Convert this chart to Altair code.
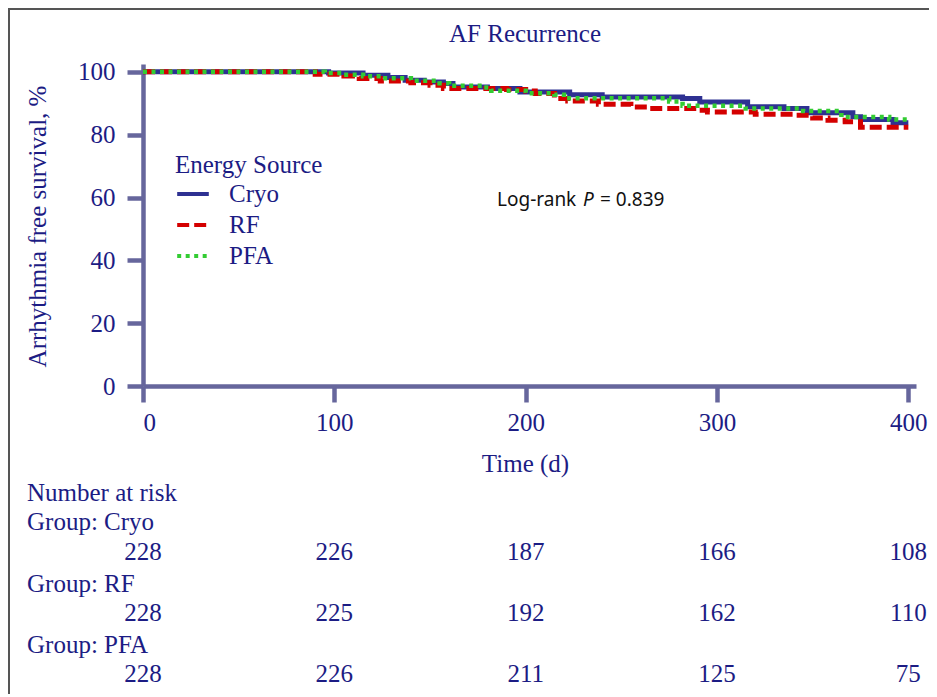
import altair as alt
import pandas as pd

# ---------------- data ----------------
groups = ["Cryo", "RF", "PFA"]
line_colors = ["#2E3192", "#D40000", "#33CC33"]
line_dashes = [[1, 0], [12, 5], [4, 4.5]]

cryo_t = [0, 97, 115, 128, 137, 147, 157, 162, 180, 197, 223, 240, 282, 291, 316, 335, 347, 371, 375, 392, 400]
cryo_s = [100, 99.6, 98.9, 98.2, 97.3, 96.8, 96.3, 95.2, 94.7, 93.6, 92.7, 92.0, 91.5, 90.4, 88.9, 88.3, 87.0, 85.7, 84.8, 83.8, 83.8]

rf_t = [0, 90, 105, 113, 124, 140, 150, 157, 190, 200, 205, 215, 222, 238, 255, 265, 290, 295, 320, 340, 350, 358, 367, 375, 400]
rf_s = [100, 99.2, 98.7, 97.9, 97.1, 96.5, 95.7, 94.7, 94.4, 93.9, 93.1, 91.5, 90.7, 89.7, 88.8, 88.3, 87.8, 87.2, 86.5, 86.2, 85.3, 84.6, 84.1, 82.4, 82.4]

pfa_t = [0, 95, 105, 115, 125, 140, 155, 160, 178, 182, 200, 215, 220, 275, 282, 315, 345, 365, 390, 400]
pfa_s = [100, 99.6, 99.1, 98.6, 98.0, 97.2, 96.4, 95.6, 95.0, 94.0, 93.2, 92.7, 91.6, 90.6, 89.2, 88.3, 87.5, 85.6, 84.8, 84.8]

risk_times = [0, 100, 200, 300, 400]
risk_cryo = [228, 226, 187, 166, 108]
risk_rf = [228, 225, 192, 162, 110]
risk_pfa = [228, 226, 211, 125, 75]

x_ticks = [0, 100, 200, 300, 400]
y_ticks = [0, 20, 40, 60, 80, 100]

# ---------------- tables ----------------
surv = pd.concat([
    pd.DataFrame({"group": "Cryo", "time": cryo_t, "surv": cryo_s}),
    pd.DataFrame({"group": "RF", "time": rf_t, "surv": rf_s}),
    pd.DataFrame({"group": "PFA", "time": pfa_t, "surv": pfa_s}),
], ignore_index=True)

risk = pd.concat([
    pd.DataFrame({"group": "Cryo", "time": risk_times, "n": risk_cryo}),
    pd.DataFrame({"group": "RF", "time": risk_times, "n": risk_rf}),
    pd.DataFrame({"group": "PFA", "time": risk_times, "n": risk_pfa}),
], ignore_index=True)

# ---------------- style ----------------
SERIF = "Liberation Serif"
NAVY = "#1C1C84"
AXIS = "#66669C"
FS = 25

xscale = alt.Scale(domain=[0, 404], nice=False, zero=False)
yscale = alt.Scale(domain=[0, 102.5], nice=False)

legend = alt.Legend(
    title="Energy Source", orient="none", legendX=32, legendY=89,
    titleFont=SERIF, titleFontSize=FS, titleFontWeight="normal", titleColor=NAVY,
    titlePadding=-2, labelFont=SERIF, labelFontSize=FS, labelColor=NAVY,
    symbolType="stroke", symbolSize=1000, symbolStrokeWidth=4,
    labelOffset=18, rowPadding=0,
)

color_enc = alt.Color("group:N", scale=alt.Scale(domain=groups, range=line_colors), legend=legend)
dash_enc = alt.StrokeDash("group:N", scale=alt.Scale(domain=groups, range=line_dashes), legend=legend)

x_axis = alt.Axis(
    values=x_ticks, title="Time (d)", titleX=382, titleY=77, titleAlign="center",
    titleBaseline="middle", labelPadding=8,
)
y_axis = alt.Axis(
    values=y_ticks, title="Arrhythmia free survival, %", titleX=-106, titleY=162,
    titleAngle=270, titleAlign="center", titleBaseline="middle", labelPadding=12,
)

widths = {"Cryo": 5, "RF": 5, "PFA": 4.5}
line_layers = []
for g in groups:
    line_layers.append(
        alt.Chart(surv).transform_filter(alt.datum.group == g)
        .mark_line(interpolate="step-after", strokeWidth=widths[g], strokeCap="butt")
        .encode(
            x=alt.X("time:Q", scale=xscale, axis=x_axis),
            y=alt.Y("surv:Q", scale=yscale, axis=y_axis),
            color=color_enc,
            strokeDash=dash_enc,
        )
    )

# risk table
row_y = {"Cryo": 488, "RF": 549, "PFA": 610}
head_y = {"Cryo": 458, "RF": 520, "PFA": 581}
risk_layers = []
for g in groups:
    risk_layers.append(
        alt.Chart(risk).transform_filter(alt.datum.group == g)
        .mark_text(font=SERIF, fontSize=FS, color=NAVY, align="center", baseline="middle")
        .encode(x=alt.X("time:Q", scale=xscale), y=alt.value(row_y[g]), text="n:Q")
    )

headers = pd.DataFrame({
    "label": ["Number at risk", "Group: Cryo", "Group: RF", "Group: PFA"],
    "py": [429, head_y["Cryo"], head_y["RF"], head_y["PFA"]],
})
header_layer = alt.Chart(headers).mark_text(
    font=SERIF, fontSize=FS, color=NAVY, align="left", baseline="middle"
).encode(x=alt.value(-116), y=alt.Y("py:Q", scale=None), text="label:N")

one = pd.DataFrame({"a": [0]})

# chart title
title_layer = alt.Chart(one).mark_text(
    text="AF Recurrence", font=SERIF, fontSize=FS, color=NAVY, align="center", baseline="middle"
).encode(x=alt.value(382), y=alt.value(-30))

# log-rank annotation
lr_style = dict(font="Noto Sans", fontSize=19, color="#111111", align="left", baseline="middle")
lr1 = alt.Chart(one).mark_text(text="Log-rank", **lr_style).encode(x=alt.value(354), y=alt.value(136))
lr2 = alt.Chart(one).mark_text(text="P", fontStyle="italic", **lr_style).encode(x=alt.value(440), y=alt.value(136))
lr3 = alt.Chart(one).mark_text(text="= 0.839", **lr_style).encode(x=alt.value(457), y=alt.value(136))

# outer frame (top and left)
frame_top = alt.Chart(one).mark_rule(color="#555555", strokeWidth=2).encode(
    x=alt.value(-135), x2=alt.value(786), y=alt.value(-55))
frame_left = alt.Chart(one).mark_rule(color="#555555", strokeWidth=2).encode(
    x=alt.value(-134), y=alt.value(-56), y2=alt.value(640))

chart = alt.layer(
    *line_layers, *risk_layers, header_layer, title_layer, lr1, lr2, lr3, frame_top, frame_left
).properties(
    width=773, height=322,
    autosize=alt.AutoSizeParams(type="none"),
    padding={"left": 135, "top": 56, "right": 13, "bottom": 308},
).configure(background="white").configure_view(stroke=None).configure_axis(
    grid=False, domainColor=AXIS, domainWidth=4.5, tickColor=AXIS, tickWidth=4.5,
    tickSize=16, labelFont=SERIF, labelFontSize=FS, labelColor=NAVY,
    titleFont=SERIF, titleFontSize=25, titleFontWeight="normal", titleColor=NAVY,
)

chart.save("out.html", embed_options={"renderer": "svg", "actions": False})
